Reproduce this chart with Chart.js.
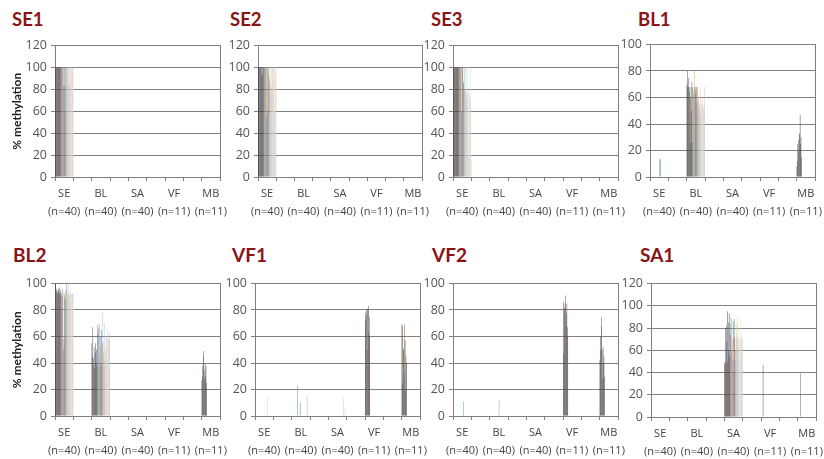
<!DOCTYPE html>
<html>
<head>
<meta charset="utf-8">
<script src="https://cdn.jsdelivr.net/npm/chart.js@4"></script>
<style>
  body { margin: 0; background: #fff; width: 824px; height: 459px; position: relative; overflow: hidden; }
  .panelTitle { position: absolute; font-family: Lato, sans-serif; font-weight: bold; color: #8a1414; line-height: 1; white-space: nowrap; }
  canvas { position: absolute; }
</style>
</head>
<body>
<script>
// tissue groups on the x axis and number of samples per group
const groups = ['SE', 'BL', 'SA', 'VF', 'MB'];
const sampleSizes = ['(n=40)', '(n=40)', '(n=40)', '(n=11)', '(n=11)'];

// % methylation per sample (one value per sample, in sample order)
const se1SE = [100,100,100,100,100,100,100,100,100,100,100,100,100,100,100,100,100,100,83,100,100,83,100,60,100,100,95,100,83,100,100,90,100,100,83,100,100,83,100,100];

const se2SE = [100,100,100,100,100,100,100,100,92,95,100,100,100,100,100,100,100,100,55,100,100,60,100,95,92,88,100,85,80,100,75,100,90,100,85,100,60,100,95,100];

const se3SE = [100,100,100,100,100,100,100,100,100,100,100,100,100,100,100,100,100,100,60,100,98,100,87,85,100,80,78,78,100,75,70,78,100,20,78,60,75,100,70,15];

const bl1SE = [0,0,0,0,0,0,0,0,0,0,0,0,0,0,0,0,0,0,0,0,0,14,13,0,0,0,0,0,0,0,0,0,0,0,0,0,0,0,0,0];
const bl1BL = [70,80,68,68,75,68,64,26,60,68,50,72,26,68,66,62,68,80,63,68,64,68,56,68,48,60,62,52,55,68,47,55,53,60,55,54,52,55,68,53];
const bl1MB = [8,12,25,20,28,32,33,47,25,30,15];

const bl2SE = [100,100,96,94,95,93,92,96,94,97,93,95,92,90,93,96,91,94,50,58,92,90,88,95,100,100,89,93,100,92,95,91,92,93,92,91,92,93,92,92];
const bl2BL = [55,45,67,44,38,52,36,48,55,40,50,38,62,69,37,66,70,45,60,38,52,65,40,55,78,48,56,38,70,45,50,60,52,58,66,38,60,55,64,58];
const bl2MB = [27,38,30,45,49,35,28,40,30,38,25];

const vf1SE = [0,0,0,0,0,0,0,0,0,0,0,0,0,0,0,0,0,0,0,0,0,0,0,0,0,0,14,0,0,0,0,0,0,0,0,0,0,0,0,0];
const vf1BL = [0,0,0,0,0,0,0,0,0,0,0,0,23,0,0,0,0,0,10,0,0,0,0,0,0,0,0,0,0,0,0,0,0,15,16,0,0,0,0,0];
const vf1SA = [0,0,0,0,0,0,0,0,0,0,0,0,0,0,0,0,0,0,0,0,0,0,0,0,0,0,0,0,0,0,0,0,0,14,0,0,6,0,0,0];
const vf1VF = [78,72,80,76,50,81,80,83,63,75,60];
const vf1MB = [69,68,25,51,50,33,69,57,20,45,40];

const vf2SE = [0,0,0,0,0,0,0,0,0,0,0,0,0,0,0,0,0,0,0,0,0,0,11,0,0,0,0,0,0,0,0,0,0,0,0,0,0,0,0,0];
const vf2BL = [0,0,0,0,0,0,0,0,0,0,0,0,0,0,0,0,0,0,0,0,12,0,0,0,0,0,0,0,0,0,0,0,0,0,0,0,0,0,0,0];
const vf2VF = [47,86,80,82,85,91,68,78,85,67,60];
const vf2MB = [42,60,50,75,68,50,28,52,40,45,30];

const sa1SA = [48,50,80,48,82,68,50,95,60,85,93,55,84,74,90,60,88,70,52,86,40,72,88,60,50,70,85,72,60,90,72,68,70,55,88,72,70,60,72,70];
const sa1VF = [0,0,0,0,47,0,0,0,0,0,0];
const sa1MB = [0,0,0,0,0,0,39,0,0,0,0];

// one colour per sample position
const sampleColors = [
  '#4a4a3c','#6b2f2b','#3c4a5e','#55602f','#5a3d6b','#2e5d6d','#7a4a22','#2a3a55','#7d2b2b','#4d5a2a','#463858','#2b5565',
  '#4f81bd','#c0504d','#9bbb59','#8064a2','#4bacc6','#f79646','#3d6fa8','#b04744','#7fa548','#6f5694','#3c9ab2','#e07f32',
  '#95b3d7','#d99694','#c3d69b','#b3a2c7','#93cddd','#fac090','#b9cde5','#e6b9b8','#d7e4bd','#ccc1da','#b7dee8','#fcd5b5',
  '#c8c8c8','#d9d9d9','#bfbfbf','#e0d0b0'
];

const panels = [
  { title: 'SE1', yMax: 120, yTitle: true,  data: { SE: se1SE }, plot: [55, 220, 44, 177],  titleAt: [12, 10, 18.5] },
  { title: 'SE2', yMax: 120, yTitle: false, data: { SE: se2SE }, plot: [258, 422, 44, 177], titleAt: [230, 10, 18.5] },
  { title: 'SE3', yMax: 120, yTitle: false, data: { SE: se3SE }, plot: [453, 618, 44, 177], titleAt: [431, 10, 18.5] },
  { title: 'BL1', yMax: 100, yTitle: false, data: { SE: bl1SE, BL: bl1BL, MB: bl1MB }, plot: [650, 815, 43, 177], titleAt: [638, 10, 18.5] },
  { title: 'BL2', yMax: 100, yTitle: true,  data: { SE: bl2SE, BL: bl2BL, MB: bl2MB }, plot: [55, 220, 282, 416], titleAt: [13, 245, 19] },
  { title: 'VF1', yMax: 100, yTitle: false, data: { SE: vf1SE, BL: vf1BL, SA: vf1SA, VF: vf1VF, MB: vf1MB }, plot: [255, 420, 282, 416], titleAt: [232, 245, 19] },
  { title: 'VF2', yMax: 100, yTitle: false, data: { SE: vf2SE, BL: vf2BL, VF: vf2VF, MB: vf2MB }, plot: [453, 618, 282, 416], titleAt: [432, 245, 19] },
  { title: 'SA1', yMax: 120, yTitle: false, data: { SA: sa1SA, VF: sa1VF, MB: sa1MB }, plot: [651, 816, 282, 417], titleAt: [640, 245, 19] }
];

const AXIS_W = 50, PAD_TOP = 10, PAD_RIGHT = 16, XAXIS_H = 40;
const lineColor = '#808080';

// labels: a label slot for each group with an empty spacer slot between groups
const xLabels = [];
groups.forEach((g, i) => {
  xLabels.push([g, sampleSizes[i]]);
  if (i < groups.length - 1) xLabels.push('');
});

function makePanel(p) {
  const [pl, pr, pt, pb] = p.plot;
  const left = pl - AXIS_W, top = pt - PAD_TOP;
  const w = pr - left + PAD_RIGHT, h = pb - top + XAXIS_H;

  const t = document.createElement('div');
  t.className = 'panelTitle';
  t.textContent = p.title;
  t.style.left = p.titleAt[0] + 'px';
  t.style.top = p.titleAt[1] + 'px';
  t.style.fontSize = p.titleAt[2] + 'px';
  document.body.appendChild(t);

  const canvas = document.createElement('canvas');
  canvas.width = w; canvas.height = h;
  canvas.style.left = left + 'px';
  canvas.style.top = top + 'px';
  document.body.appendChild(canvas);

  const datasets = [];
  for (let i = 0; i < 40; i++) {
    const values = [];
    groups.forEach((g, gi) => {
      const arr = p.data[g] || [];
      values.push(i < arr.length ? arr[i] : null);
      if (gi < groups.length - 1) values.push(null);
    });
    datasets.push({
      label: 'sample ' + (i + 1),
      data: values,
      backgroundColor: sampleColors[i],
      borderWidth: 0,
      barPercentage: 1,
      categoryPercentage: 1,
      inflateAmount: 0
    });
  }

  new Chart(canvas.getContext('2d'), {
    type: 'bar',
    data: { labels: xLabels, datasets: datasets },
    options: {
      responsive: false,
      animation: false,
      events: [],
      layout: { padding: { top: PAD_TOP, right: PAD_RIGHT, left: 0, bottom: 0 } },
      plugins: { legend: { display: false }, tooltip: { enabled: false } },
      scales: {
        x: {
          offset: true,
          grid: { offset: true, drawOnChartArea: false, drawTicks: true, tickLength: 4, color: lineColor },
          border: { color: lineColor },
          ticks: {
            autoSkip: false, maxRotation: 0, minRotation: 0, padding: 4,
            color: '#444', font: { family: 'Open Sans', size: 11, lineHeight: 1.6 }
          },
          afterFit: s => { s.height = XAXIS_H; }
        },
        y: {
          min: 0, max: p.yMax,
          ticks: { stepSize: 20, padding: 4, color: '#555', font: { family: 'Open Sans', size: 12.5 } },
          grid: { color: lineColor, tickLength: 4 },
          border: { color: lineColor },
          title: {
            display: p.yTitle, text: '% methylation', color: '#222',
            padding: { top: 5, bottom: 0 },
            font: { family: 'Lato', size: 12, weight: 'bold' }
          },
          afterFit: s => { s.width = AXIS_W; }
        },
        yRight: {
          position: 'right', min: 0, max: p.yMax,
          ticks: { display: false },
          grid: { drawOnChartArea: false, drawTicks: false },
          border: { display: true, color: lineColor },
          afterFit: s => { s.width = 0; }
        }
      }
    }
  });
}

panels.forEach(makePanel);
</script>
</body>
</html>
